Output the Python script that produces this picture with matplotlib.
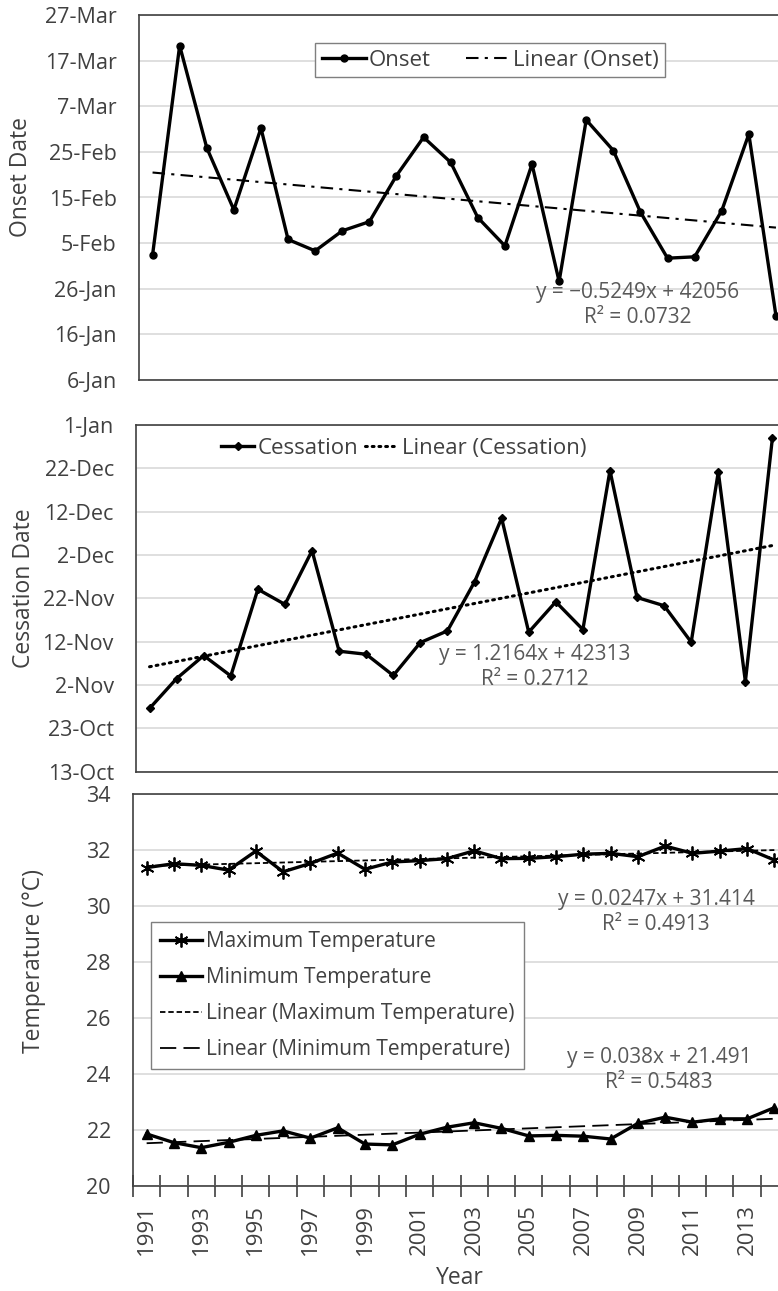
import numpy as np
import matplotlib
matplotlib.use("Agg")
import matplotlib.pyplot as plt

plt.rcParams['font.family'] = ['Open Sans', 'DejaVu Sans']

years = list(range(1991, 2015))

# onset / cessation as day of year (2015 calendar)
onset = [33.4, 79.3, 56.9, 43.3, 61.2, 36.8, 34.3, 38.7, 40.7, 50.8, 59.2, 53.7,
         41.6, 35.4, 53.3, 27.6, 63.0, 56.3, 42.8, 32.7, 33.0, 43.1, 59.9, 20.1]
cessation = [300.6, 307.5, 312.8, 308.1, 328.1, 324.6, 337.0, 313.8, 313.1, 308.2, 315.8, 318.5,
             329.8, 344.5, 318.2, 325.2, 318.8, 355.5, 326.2, 324.3, 315.9, 355.2, 306.8, 363.1]
tmax = [31.38, 31.52, 31.46, 31.29, 31.97, 31.23, 31.53, 31.90, 31.32, 31.58, 31.63, 31.70,
        31.98, 31.70, 31.71, 31.77, 31.86, 31.89, 31.77, 32.15, 31.89, 31.97, 32.06, 31.65]
tmin = [21.86, 21.55, 21.37, 21.56, 21.81, 21.97, 21.71, 22.08, 21.50, 21.47, 21.85, 22.10,
        22.26, 22.06, 21.79, 21.81, 21.78, 21.68, 22.24, 22.46, 22.28, 22.40, 22.40, 22.80]

# trendline coefficients as printed (x = 1..24, dates as Excel serials)
onset_fit = [-0.5249, 42056]
cess_fit = [1.2164, 42313]
tmax_fit = [0.0247, 31.414]
tmin_fit = [0.038, 21.491]
onset_r2 = 0.0732
cess_r2 = 0.2712
tmax_r2 = 0.4913
tmin_r2 = 0.5483
serial0 = 42004  # 31-Dec-2014

onset_ticks = [6, 16, 26, 36, 46, 56, 66, 76, 86]
onset_labels = ['6-Jan', '16-Jan', '26-Jan', '5-Feb', '15-Feb', '25-Feb', '7-Mar', '17-Mar', '27-Mar']
cess_ticks = [286, 296, 306, 316, 326, 336, 346, 356, 366]
cess_labels = ['13-Oct', '23-Oct', '2-Nov', '12-Nov', '22-Nov', '2-Dec', '12-Dec', '22-Dec', '1-Jan']
temp_ticks = [20, 22, 24, 26, 28, 30, 32, 34]

W, H = 778, 1291
fig = plt.figure(figsize=(W / 100, H / 100), dpi=100)


def box(l, t, r, b):
    return [l / W, 1 - b / H, (r - l) / W, (b - t) / H]


txt = '#404040'
eqc = '#595959'
grid = '#d9d9d9'
fs = 15.5     # tick labels
lgfs = 16     # legends
efs = 15      # equations
lfs = 16.5    # axis titles
x = np.arange(1, len(years) + 1)


def style(ax):
    for s in ax.spines.values():
        s.set_color('#404040')
        s.set_linewidth(1.2)
    ax.set_xlim(0.5, len(years) + 0.5)
    ax.yaxis.grid(True, color=grid, lw=1.2)
    ax.set_axisbelow(True)
    ax.tick_params(axis='y', length=0, labelsize=fs, labelcolor=txt, pad=16)


def eq(text, px, py):
    fig.text(px / W, 1 - py / H, text, ha='center', va='center', fontsize=efs,
             color=eqc, linespacing=1.3)


def legend_txt(leg):
    for t in leg.get_texts():
        t.set_color(txt)


# ---- onset
ax1 = fig.add_axes(box(139, 15, 789.5, 380))
style(ax1)
ax1.plot(x, onset, color='black', lw=2.4, marker='o', ms=5, label='Onset')
ax1.plot(x, onset_fit[0] * x + onset_fit[1] - serial0, color='black', lw=1.5,
         dashes=(6, 3, 1.5, 3), label='Linear (Onset)')
ax1.set_ylim(6, 86)
ax1.set_yticks(onset_ticks, onset_labels)
ax1.set_xticks([])
ax1.set_ylabel('Onset Date', fontsize=lfs, color=txt)
ax1.yaxis.set_label_coords((33 - 139) / 650.5, 0.555)
leg = ax1.legend(loc='upper left', bbox_to_anchor=((315 - 139) / 650.5, 1 - (43 - 15) / 365),
                 ncol=2, fontsize=lgfs, frameon=True, fancybox=False, framealpha=1,
                 edgecolor='#7f7f7f', handlelength=2.0, columnspacing=1.6,
                 handletextpad=0.1, borderpad=0.3, borderaxespad=0)
legend_txt(leg)
eq(f'y = −{abs(onset_fit[0])}x + {onset_fit[1]}\nR² = {onset_r2}', 638, 305)

# ---- cessation
ax2 = fig.add_axes(box(136, 425, 786, 771.7))
style(ax2)
ax2.plot(x, cessation, color='black', lw=2.4, marker='D', ms=4.5, label='Cessation')
ax2.plot(x, cess_fit[0] * x + cess_fit[1] - serial0, color='black', lw=2.2,
         linestyle=(0, (0.6, 1.6)), dash_capstyle='round', label='Linear (Cessation)')
ax2.set_ylim(286, 366)
ax2.set_yticks(cess_ticks, cess_labels)
ax2.set_xticks([])
ax2.set_ylabel('Cessation Date', fontsize=lfs, color=txt)
ax2.yaxis.set_label_coords((36 - 136) / 650, 0.53)
leg = ax2.legend(loc='upper left', bbox_to_anchor=((212 - 136) / 650, 1 - (429 - 425) / 346.7),
                 ncol=2, fontsize=lgfs, frameon=False, handlelength=1.5, columnspacing=0.3,
                 handletextpad=0.15, borderaxespad=0)
legend_txt(leg)
eq(f'y = {cess_fit[0]}x + {cess_fit[1]}\nR² = {cess_r2}', 535, 667)

# ---- temperature
ax3 = fig.add_axes(box(133, 794.3, 788, 1186))
style(ax3)
ax3.plot(x, tmax, color='black', lw=2.4, marker=(6, 2, 0), ms=10, mew=1.3,
         label='Maximum Temperature')
ax3.plot(x, tmin, color='black', lw=2.4, marker='^', ms=7, label='Minimum Temperature')
ax3.plot(x, tmax_fit[0] * x + tmax_fit[1], color='black', lw=1.3, dashes=(3, 1.6),
         label='Linear (Maximum Temperature)')
ax3.plot(x, tmin_fit[0] * x + tmin_fit[1], color='black', lw=1.3, dashes=(9, 4),
         label='Linear (Minimum Temperature)')
ax3.set_ylim(20, 34)
ax3.set_yticks(temp_ticks)
ax3.set_xticks(np.arange(0.5, len(years) + 1), [''] * (len(years) + 1))
ax3.set_xticks(x[::2], [str(y) for y in years[::2]], minor=True)
ax3.tick_params(axis='x', which='major', direction='inout', length=16, width=1.2,
                color='#404040')
ax3.tick_params(axis='x', which='minor', length=0, labelsize=16, labelcolor=txt,
                rotation=90, pad=13)
ax3.set_ylabel('Temperature (°C)', fontsize=lfs, color=txt)
ax3.yaxis.set_label_coords((46 - 133) / 655, 0.575)
ax3.set_xlabel('Year', fontsize=lfs, color=txt)
ax3.xaxis.set_label_coords((460 - 133) / 655, -0.205)
leg = ax3.legend(loc='upper left', bbox_to_anchor=((150.7 - 133) / 655, 1 - (921.7 - 794.3) / 391.7),
                 fontsize=15, frameon=True, fancybox=False, framealpha=1,
                 edgecolor='#7f7f7f', handlelength=2.0, handletextpad=0.2,
                 labelspacing=0.72, borderpad=0.45, borderaxespad=0)
legend_txt(leg)
eq(f'y = {tmax_fit[0]}x + {tmax_fit[1]}\nR² = {tmax_r2}', 656, 912)
eq(f'y = {tmin_fit[0]}x + {tmin_fit[1]}\nR² = {tmin_r2}', 659, 1070)

fig.savefig('out.png', dpi=100)
